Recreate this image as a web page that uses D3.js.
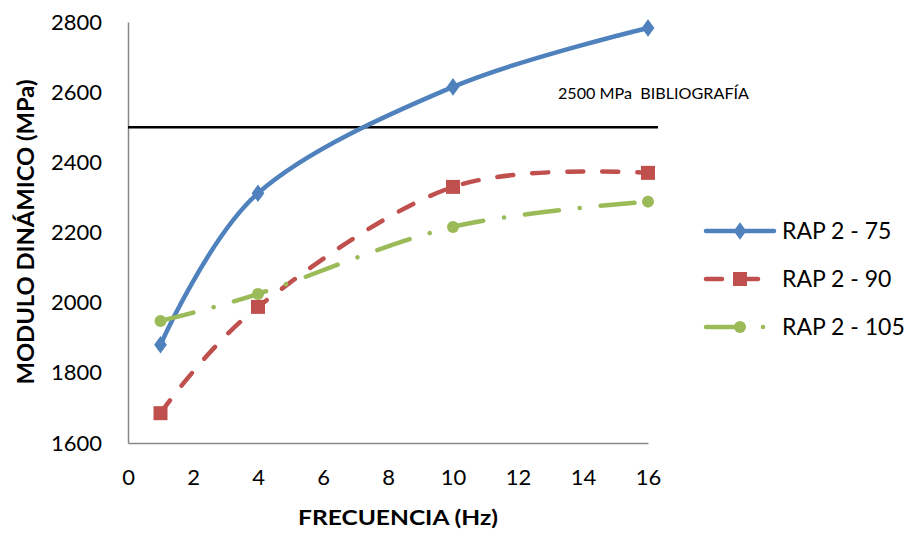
<!DOCTYPE html>
<html><head><meta charset="utf-8">
<script src="https://cdn.jsdelivr.net/npm/d3@7"></script>
<style>
body{margin:0;background:#fff;}
svg text{font-family:Lato,"Open Sans",sans-serif;fill:#000;}
</style></head>
<body><svg id="c" width="907" height="534"></svg>
<script>
const freq = [1, 4, 10, 16];
const rap75 = [1880, 2312, 2615, 2783];
const rap90 = [1685, 1988, 2330, 2370];
const rap105 = [1948, 2025, 2216, 2288];
const seriesNames = ["RAP 2 - 75", "RAP 2 - 90", "RAP 2 - 105"];
const xTicks = [0, 2, 4, 6, 8, 10, 12, 14, 16];
const yTicks = [1600, 1800, 2000, 2200, 2400, 2600, 2800];
const refValue = 2500;
const refLabel = "2500 MPa  BIBLIOGRAFÍA";
const xTitle = "FRECUENCIA (Hz)";
const yTitle = "MODULO DINÁMICO (MPa)";

const svg = d3.select("#c");
const x = d3.scaleLinear().domain([0, 16]).range([128, 648]);
const y = d3.scaleLinear().domain([1600, 2800]).range([443, 22]);

// axes
const xAxis = svg.append("g").attr("transform", `translate(0,${y(1600)})`)
  .call(d3.axisBottom(x).tickValues(xTicks).tickSize(0).tickPadding(26).tickFormat(d3.format("d")));
const yAxis = svg.append("g").attr("transform", `translate(${x(0)},0)`)
  .call(d3.axisLeft(y).tickValues(yTicks).tickSize(0).tickPadding(26).tickFormat(d3.format("d")));
[xAxis, yAxis].forEach(a => {
  a.select(".domain").attr("stroke", "#868686").attr("stroke-width", 1.5);
  a.selectAll("text").style("font-size", "22px").style("font-family", "Lato").attr("fill", "#000");
});

// reference line
svg.append("line").attr("x1", x(0)).attr("x2", 658).attr("y1", y(refValue)).attr("y2", y(refValue))
  .attr("stroke", "#000").attr("stroke-width", 2.5);
svg.append("text").attr("x", 558).attr("y", 99).style("font-size", "15px").style("white-space", "pre")
  .attr("textLength", 191).attr("lengthAdjust", "spacingAndGlyphs").text(refLabel);

const colors = ["#4F81BD", "#C0504D", "#9BBB59"];
const dashes = [null, "16,19", "34,21,0.1,21"];
const all = [rap75, rap90, rap105];
const line = d3.line().x((d, i) => x(freq[i])).y(d => y(d)).curve(d3.curveCatmullRom.alpha(0));

function marker(g, k, cx, cy) {
  if (k === 0) {
    g.append("path").attr("d", d3.symbol(d3.symbolDiamond, 90)()).attr("transform", `translate(${cx},${cy}) scale(1.25,1)`).attr("fill", colors[0]);
  } else if (k === 1) {
    g.append("rect").attr("x", cx - 7).attr("y", cy - 7).attr("width", 14).attr("height", 14).attr("fill", colors[1]);
  } else {
    g.append("circle").attr("cx", cx).attr("cy", cy).attr("r", 6).attr("fill", colors[2]);
  }
}

all.forEach((vals, k) => {
  const p = svg.append("path").attr("d", line(vals)).attr("fill", "none")
    .attr("stroke", colors[k]).attr("stroke-width", 4.5).attr("stroke-linecap", "round");
  if (dashes[k]) p.attr("stroke-dasharray", dashes[k]);
});
all.forEach((vals, k) => {
  const g = svg.append("g");
  vals.forEach((v, i) => marker(g, k, x(freq[i]), y(v)));
});

// legend
const legY = [231, 279, 327];
seriesNames.forEach((n, k) => {
  const g = svg.append("g");
  if (k === 0) {
    g.append("line").attr("x1", 706).attr("x2", 774).attr("y1", legY[k]).attr("y2", legY[k])
      .attr("stroke", colors[k]).attr("stroke-width", 4.5).attr("stroke-linecap", "round");
  } else if (k === 1) {
    g.append("line").attr("x1", 706).attr("x2", 722).attr("y1", legY[k]).attr("y2", legY[k])
      .attr("stroke", colors[k]).attr("stroke-width", 4.5).attr("stroke-linecap", "round");
    g.append("line").attr("x1", 742).attr("x2", 758).attr("y1", legY[k]).attr("y2", legY[k])
      .attr("stroke", colors[k]).attr("stroke-width", 4.5).attr("stroke-linecap", "round");
  } else {
    g.append("line").attr("x1", 706).attr("x2", 740).attr("y1", legY[k]).attr("y2", legY[k])
      .attr("stroke", colors[k]).attr("stroke-width", 4.5).attr("stroke-linecap", "round");
    g.append("circle").attr("cx", 763).attr("cy", legY[k]).attr("r", 2.3).attr("fill", colors[k]);
  }
  marker(g, k, 740, legY[k]);
  g.append("text").attr("x", 782).attr("y", legY[k]).attr("dy", "0.36em").style("font-size", "23px").text(n);
});

// axis titles
svg.append("text").attr("x", 398).attr("y", 525).attr("text-anchor", "middle")
  .style("font-size", "20px").style("font-weight", "bold")
  .attr("textLength", 200).attr("lengthAdjust", "spacingAndGlyphs").text(xTitle);
svg.append("text").attr("transform", "translate(34,232) rotate(-90)").attr("text-anchor", "middle")
  .style("font-size", "22px").style("font-weight", "bold")
  .attr("textLength", 305).attr("lengthAdjust", "spacingAndGlyphs").text(yTitle);
</script></body></html>
